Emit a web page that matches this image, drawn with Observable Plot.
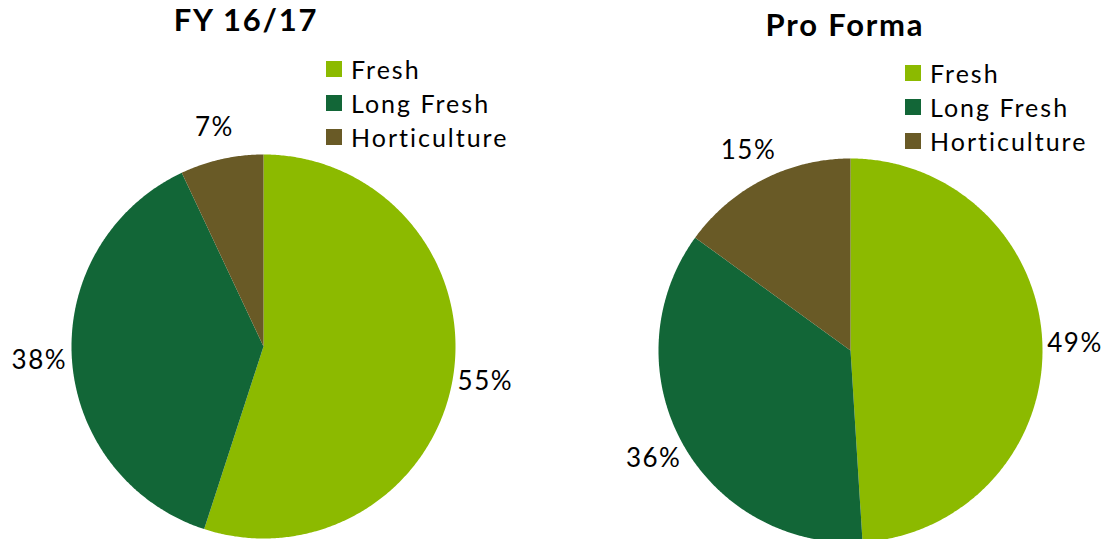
<!DOCTYPE html>
<html><head><meta charset="utf-8">
<script src="https://cdn.jsdelivr.net/npm/d3@7"></script>
<script src="https://cdn.jsdelivr.net/npm/@observablehq/plot@0.6"></script>
<style>
html,body{margin:0;padding:0;background:#fff;overflow:hidden;}
#wrap{position:relative;width:1104px;height:539px;font-family:Lato, sans-serif;color:#000;}
.panel{position:absolute;top:0;width:552px;height:539px;}
.title{position:absolute;font-weight:bold;font-size:31px;letter-spacing:1.8px;white-space:nowrap;transform:translateX(-50%);line-height:1;}
.legend{position:absolute;font-size:25px;line-height:34px;letter-spacing:2px;}
.legend .item{display:flex;align-items:center;white-space:nowrap;height:34px;}
.legend .sw{width:16px;height:16px;margin-right:9px;flex:none;}
</style></head><body><div id="wrap"></div>
<script>
// ---- data ----
const categories = ["Fresh", "Long Fresh", "Horticulture"];
const colors = ["#8cba00", "#126637", "#695a26"];
const chartTitles = ["FY 16/17", "Pro Forma"];
const fy1617Values = [55, 38, 7];
const proFormaValues = [49, 36, 15];

// ---- layout (styles only) ----
const layouts = [
  {left: 0, marginLeft: 71, marginRight: 97, marginTop: 154, marginBottom: 1, titleX: 246, titleTop: 4, legendX: 326, legendTop: 52},
  {left: 552, marginLeft: 106, marginRight: 62, marginTop: 158, marginBottom: -3, titleX: 845, titleTop: 9, legendX: 905, legendTop: 56}
];
const seriesList = [fy1617Values, proFormaValues];

const wrap = document.getElementById("wrap");
const pie = d3.pie().sort(null).value(d => d.value);
const labelRadius = 1.17;

seriesList.forEach((values, i) => {
  const L = layouts[i];
  const rows = categories.map((c, j) => ({category: c, value: values[j]}));
  const arcs = pie(rows);
  // polygon outline of each slice, derived from the pie angles
  const pts = [];
  arcs.forEach(a => {
    const c = a.data.category;
    pts.push({category: c, x: 0, y: 0});
    const n = Math.max(2, Math.ceil((a.endAngle - a.startAngle) / (Math.PI / 360)));
    for (let k = 0; k <= n; ++k) {
      const t = a.startAngle + (a.endAngle - a.startAngle) * k / n;
      pts.push({category: c, x: Math.sin(t), y: Math.cos(t)});
    }
  });
  const labels = arcs.map(a => {
    const m = (a.startAngle + a.endAngle) / 2;
    return {text: a.data.value + "%", x: labelRadius * Math.sin(m), y: labelRadius * Math.cos(m)};
  });

  const chart = Plot.plot({
    width: 552,
    height: 539,
    marginLeft: L.marginLeft,
    marginRight: L.marginRight,
    marginTop: L.marginTop,
    marginBottom: L.marginBottom,
    x: {domain: [-1, 1], axis: null},
    y: {domain: [-1, 1], axis: null},
    color: {domain: categories, range: colors},
    style: {fontFamily: "Lato, sans-serif", background: "transparent", overflow: "visible", letterSpacing: "1.5px"},
    marks: [
      Plot.line(pts, {x: "x", y: "y", z: "category", fill: "category", stroke: null, curve: "linear-closed"}),
      Plot.text(labels, {x: "x", y: "y", text: "text", fontSize: 26, fill: "black", textAnchor: "middle", lineAnchor: "middle"})
    ]
  });
  const panel = document.createElement("div");
  panel.className = "panel";
  panel.style.left = L.left + "px";
  panel.appendChild(chart);
  wrap.appendChild(panel);

  const title = document.createElement("div");
  title.className = "title";
  title.textContent = chartTitles[i];
  title.style.left = L.titleX + "px";
  title.style.top = L.titleTop + "px";
  wrap.appendChild(title);

  const legend = document.createElement("div");
  legend.className = "legend";
  legend.style.left = L.legendX + "px";
  legend.style.top = L.legendTop + "px";
  categories.forEach((c, j) => {
    const item = document.createElement("div");
    item.className = "item";
    const sw = document.createElement("span");
    sw.className = "sw";
    sw.style.background = colors[j];
    const tx = document.createElement("span");
    tx.textContent = c;
    item.appendChild(sw);
    item.appendChild(tx);
    legend.appendChild(item);
  });
  wrap.appendChild(legend);
});
</script></body></html>
